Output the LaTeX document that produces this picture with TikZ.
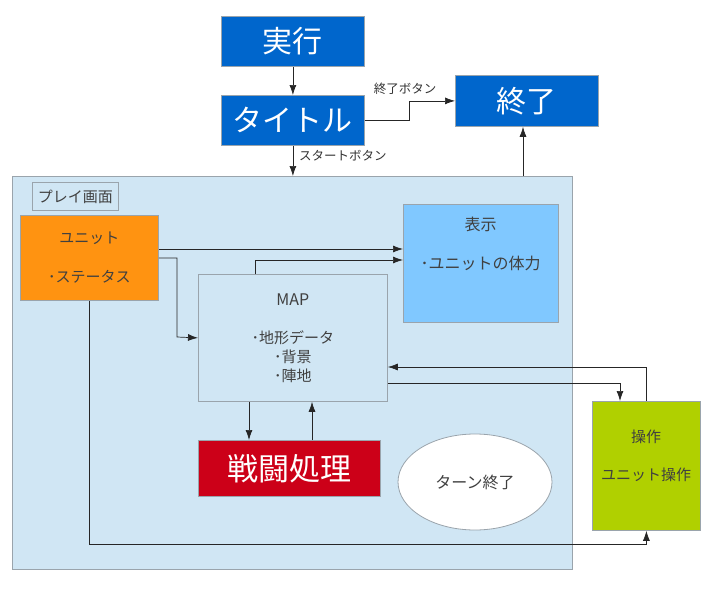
\documentclass[tikz,border=0pt]{standalone}
\usepackage{fontspec}
\setmainfont{Noto Sans CJK JP}
\usetikzlibrary{arrows.meta,shapes.geometric}
\definecolor{blu}{HTML}{0066CC}
\definecolor{playbg}{HTML}{D0E6F4}
\definecolor{orng}{HTML}{FF9311}
\definecolor{skyb}{HTML}{80C8FF}
\definecolor{redb}{HTML}{CC0018}
\definecolor{grn}{HTML}{B0D000}
\definecolor{bord}{HTML}{9AA4AC}
\definecolor{txt}{HTML}{404040}
\begin{document}
\begin{tikzpicture}[x=1pt,y=-1pt,
  box/.style={draw=bord, line width=0.8pt, inner sep=0pt, anchor=north west},
  big/.style={box, fill=blu, text=white, font=\fontsize{30}{36}\selectfont},
  lbl/.style={text=txt, font=\fontsize{15}{19}\selectfont, inner sep=0pt, align=center},
  small/.style={text=txt!80!black, font=\fontsize{12.5}{15}\selectfont, inner sep=0pt},
  conn/.style={draw=black!85, line width=0.7pt, -{Latex[length=10pt,width=7pt]}}]
\fill[white] (0,0) rectangle (728,602);
\useasboundingbox (0,0) rectangle (728,602);

% play area
\node[box, fill=playbg, minimum width=560pt, minimum height=393pt] (play) at (12,176) {};
\node[box, fill=playbg, minimum width=86pt, minimum height=28pt, text=txt, font=\fontsize{15}{18}\selectfont] (playlbl) at (32,182) {プレイ画面};

% top boxes
\node[big, minimum width=143pt, minimum height=50pt] (jikko) at (221,16) {実行};
\node[big, minimum width=143pt, minimum height=50pt] (title) at (221,95) {タイトル};
\node[big, minimum width=143pt, minimum height=51pt] (shuryo) at (455,75) {終了};

% inner boxes
\node[box, fill=orng, minimum width=138pt, minimum height=85pt, lbl, anchor=north west] (unit) at (20,215) {ユニット\\[20pt]･ステータス};
\node[box, fill=playbg, minimum width=189pt, minimum height=127pt, lbl, anchor=north west] (map) at (198,274) {{\fontsize{16}{19}\selectfont MAP}\\[19pt]･地形データ\\･背景\\･陣地};
\node[box, fill=skyb, minimum width=155pt, minimum height=118pt] (hyoji) at (403,204) {};
\node[lbl, font=\fontsize{16}{19}\selectfont] (hyojit) at (480.5,243.5) {表示\\[20pt]･ユニットの体力};
\node[box, fill=redb, text=white, font=\fontsize{31}{36}\selectfont, minimum width=182pt, minimum height=56pt] (sentou) at (198,440) {戦闘処理};
\node[ellipse, draw=bord, line width=0.8pt, fill=white, minimum width=154pt, minimum height=96pt, text=txt, font=\fontsize{16}{19}\selectfont] (turn) at (475,482) {ターン終了};
\node[box, fill=grn, minimum width=108pt, minimum height=129pt] (sousa) at (592,401) {};
\node[lbl] (sousat) at (646,456) {操作\\[19pt]ユニット操作};

% helper coordinates
\coordinate (r1) at (0,249);
\coordinate (c2) at (255,260);
\coordinate (c3) at (177,337);
\coordinate (c4) at (0,367);
\coordinate (c5) at (620,383);
\coordinate (c6) at (249,0);
\coordinate (c6b) at (312,0);
\coordinate (c7) at (0,544);
\coordinate (c8) at (523,0);

% connectors
\draw[conn] (jikko) -- (title);
\draw[conn] (title.east) -- ++(45,0) |- (shuryo.west);
\node[small, anchor=south] (lblend) at (405,95) {終了ボタン};
\draw[conn] (title.south) -- (title.south |- play.north);
\node[small, anchor=west] (lblstart) at (299,156) {スタートボタン};
\draw[conn] (c8 |- play.north) -- (c8 |- shuryo.south);
\draw[conn] (unit.east |- r1) -- (hyoji.west |- r1);
\draw[conn] (map.north -| c2) |- (hyoji.west |- c2);
\draw[conn] (unit.east) -| (c3) -- (map.west);
\draw[conn] (sousa.north) |- (map.east |- c4);
\draw[conn] (map.east |- c5) -| (sousa.north -| c5);
\draw[conn] (map.south -| c6) -- (sentou.north -| c6);
\draw[conn] (sentou.north -| c6b) -- (map.south -| c6b);
\draw[conn] (unit.south) |- (sousa.south |- c7) -- (sousa.south);
\end{tikzpicture}
\end{document}
